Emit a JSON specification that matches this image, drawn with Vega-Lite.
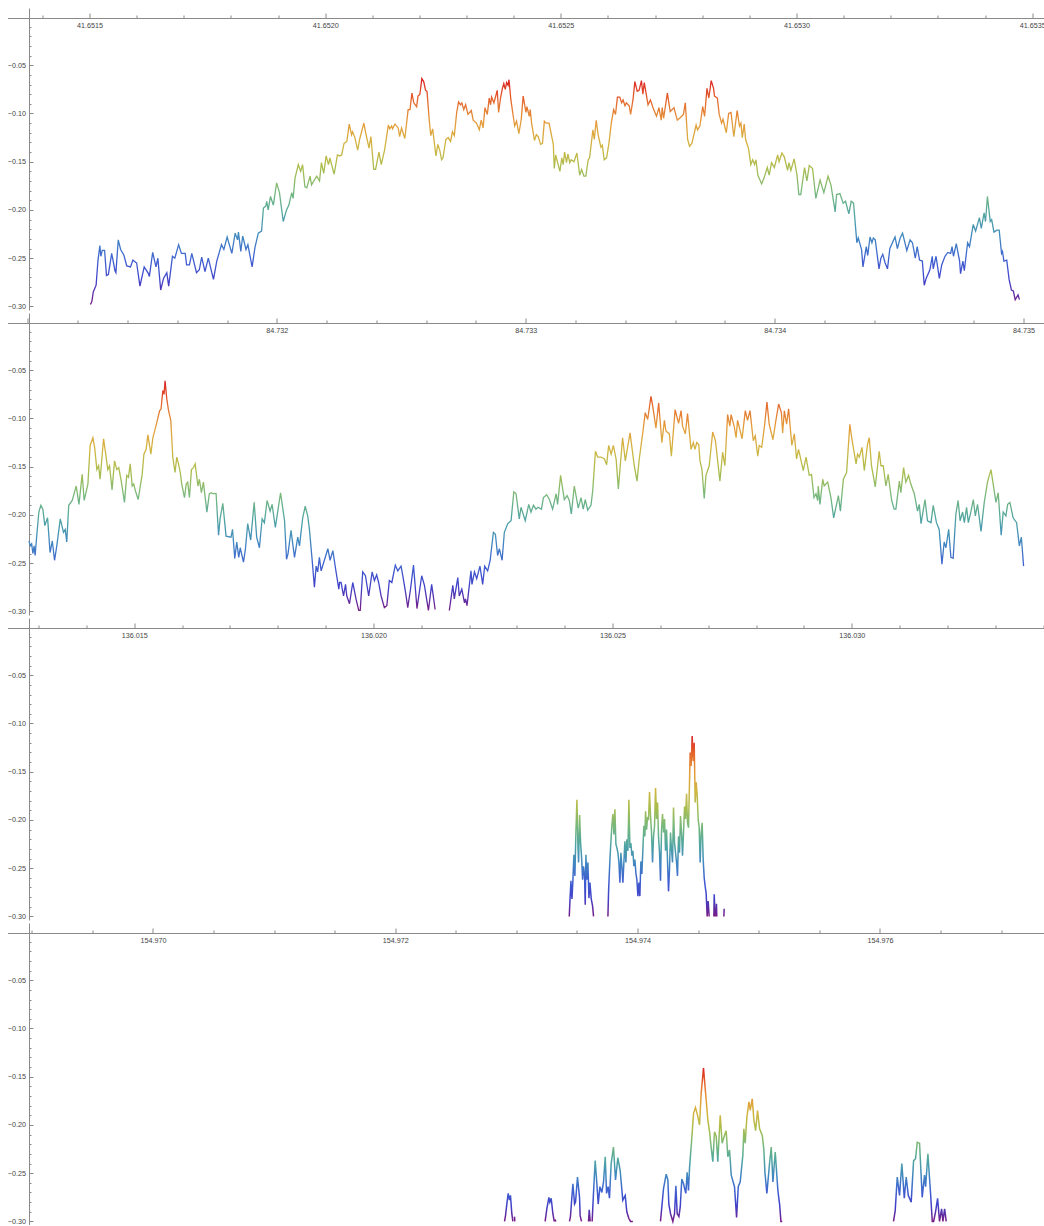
{"$schema":"https://vega.github.io/schema/vega-lite/v6.json","padding":{"left":6.5,"top":8,"right":0,"bottom":0},"spacing":3,"config":{"view":{"stroke":null},"axis":{"grid":false,"title":null,"domainColor":"#8a8a8a","tickColor":"#8a8a8a","labelColor":"#444444","labelFont":"Liberation Sans","labelFontSize":7.2,"domainWidth":1,"tickWidth":1}},
"datasets":{
"p1":[{"x":41.651502,"y":-0.298},{"x":41.651505,"y":-0.295},{"x":41.651508,"y":-0.285},{"x":41.651514,"y":-0.278},{"x":41.651518,"y":-0.252},{"x":41.651522,"y":-0.237},{"x":41.651524,"y":-0.248},{"x":41.651527,"y":-0.242},{"x":41.651532,"y":-0.242},{"x":41.651536,"y":-0.268},{"x":41.65154,"y":-0.267},{"x":41.651547,"y":-0.245},{"x":41.651549,"y":-0.25},{"x":41.651554,"y":-0.263},{"x":41.651556,"y":-0.265},{"x":41.651561,"y":-0.231},{"x":41.651566,"y":-0.241},{"x":41.651573,"y":-0.247},{"x":41.651579,"y":-0.258},{"x":41.651587,"y":-0.259},{"x":41.651592,"y":-0.252},{"x":41.6516,"y":-0.255},{"x":41.651607,"y":-0.279},{"x":41.651616,"y":-0.259},{"x":41.651625,"y":-0.266},{"x":41.651627,"y":-0.269},{"x":41.651634,"y":-0.244},{"x":41.651641,"y":-0.259},{"x":41.651645,"y":-0.25},{"x":41.651651,"y":-0.283},{"x":41.651657,"y":-0.271},{"x":41.651664,"y":-0.265},{"x":41.651668,"y":-0.279},{"x":41.651676,"y":-0.248},{"x":41.651681,"y":-0.25},{"x":41.651689,"y":-0.236},{"x":41.651695,"y":-0.245},{"x":41.651703,"y":-0.245},{"x":41.651706,"y":-0.257},{"x":41.651712,"y":-0.257},{"x":41.651717,"y":-0.245},{"x":41.651727,"y":-0.265},{"x":41.651733,"y":-0.262},{"x":41.651738,"y":-0.249},{"x":41.651745,"y":-0.264},{"x":41.651752,"y":-0.25},{"x":41.651763,"y":-0.272},{"x":41.65177,"y":-0.253},{"x":41.65178,"y":-0.236},{"x":41.651785,"y":-0.241},{"x":41.651792,"y":-0.228},{"x":41.651802,"y":-0.245},{"x":41.651809,"y":-0.224},{"x":41.651814,"y":-0.231},{"x":41.651816,"y":-0.223},{"x":41.651821,"y":-0.243},{"x":41.651825,"y":-0.227},{"x":41.651832,"y":-0.241},{"x":41.651836,"y":-0.236},{"x":41.651845,"y":-0.259},{"x":41.651851,"y":-0.239},{"x":41.651858,"y":-0.224},{"x":41.651865,"y":-0.222},{"x":41.651869,"y":-0.198},{"x":41.651874,"y":-0.196},{"x":41.651876,"y":-0.191},{"x":41.651879,"y":-0.2},{"x":41.651884,"y":-0.186},{"x":41.65189,"y":-0.195},{"x":41.651897,"y":-0.172},{"x":41.651903,"y":-0.182},{"x":41.651911,"y":-0.212},{"x":41.651918,"y":-0.2},{"x":41.651923,"y":-0.195},{"x":41.651929,"y":-0.182},{"x":41.651932,"y":-0.188},{"x":41.651936,"y":-0.167},{"x":41.651943,"y":-0.153},{"x":41.651948,"y":-0.16},{"x":41.651952,"y":-0.153},{"x":41.651957,"y":-0.176},{"x":41.651961,"y":-0.177},{"x":41.651968,"y":-0.165},{"x":41.651971,"y":-0.174},{"x":41.651982,"y":-0.165},{"x":41.651988,"y":-0.17},{"x":41.651992,"y":-0.151},{"x":41.651997,"y":-0.162},{"x":41.652002,"y":-0.144},{"x":41.652007,"y":-0.153},{"x":41.65201,"y":-0.146},{"x":41.652019,"y":-0.163},{"x":41.652026,"y":-0.143},{"x":41.652031,"y":-0.144},{"x":41.652035,"y":-0.143},{"x":41.65204,"y":-0.131},{"x":41.652046,"y":-0.129},{"x":41.652051,"y":-0.111},{"x":41.652056,"y":-0.122},{"x":41.652058,"y":-0.119},{"x":41.652063,"y":-0.125},{"x":41.652069,"y":-0.138},{"x":41.652073,"y":-0.127},{"x":41.652082,"y":-0.11},{"x":41.652086,"y":-0.12},{"x":41.652093,"y":-0.136},{"x":41.652097,"y":-0.124},{"x":41.652103,"y":-0.158},{"x":41.652107,"y":-0.158},{"x":41.652114,"y":-0.14},{"x":41.652119,"y":-0.153},{"x":41.652126,"y":-0.138},{"x":41.652134,"y":-0.112},{"x":41.652137,"y":-0.116},{"x":41.652141,"y":-0.113},{"x":41.652143,"y":-0.116},{"x":41.652148,"y":-0.111},{"x":41.652155,"y":-0.115},{"x":41.652158,"y":-0.124},{"x":41.652162,"y":-0.115},{"x":41.652169,"y":-0.126},{"x":41.652176,"y":-0.096},{"x":41.65218,"y":-0.096},{"x":41.652184,"y":-0.079},{"x":41.652188,"y":-0.089},{"x":41.652194,"y":-0.093},{"x":41.652197,"y":-0.082},{"x":41.652201,"y":-0.08},{"x":41.652205,"y":-0.064},{"x":41.652209,"y":-0.067},{"x":41.652213,"y":-0.076},{"x":41.652216,"y":-0.077},{"x":41.652221,"y":-0.108},{"x":41.652224,"y":-0.123},{"x":41.652228,"y":-0.116},{"x":41.652235,"y":-0.144},{"x":41.652239,"y":-0.132},{"x":41.652243,"y":-0.138},{"x":41.652247,"y":-0.148},{"x":41.65225,"y":-0.146},{"x":41.652256,"y":-0.127},{"x":41.652261,"y":-0.125},{"x":41.652266,"y":-0.129},{"x":41.65227,"y":-0.119},{"x":41.652274,"y":-0.123},{"x":41.652279,"y":-0.099},{"x":41.652283,"y":-0.088},{"x":41.652287,"y":-0.091},{"x":41.65229,"y":-0.089},{"x":41.652294,"y":-0.096},{"x":41.652298,"y":-0.091},{"x":41.652303,"y":-0.101},{"x":41.65231,"y":-0.097},{"x":41.652314,"y":-0.107},{"x":41.652321,"y":-0.11},{"x":41.652327,"y":-0.117},{"x":41.652331,"y":-0.107},{"x":41.652335,"y":-0.115},{"x":41.652339,"y":-0.094},{"x":41.652344,"y":-0.101},{"x":41.652348,"y":-0.084},{"x":41.652351,"y":-0.091},{"x":41.652353,"y":-0.083},{"x":41.652358,"y":-0.089},{"x":41.652365,"y":-0.076},{"x":41.652368,"y":-0.099},{"x":41.652372,"y":-0.084},{"x":41.652376,"y":-0.074},{"x":41.652379,"y":-0.069},{"x":41.652382,"y":-0.075},{"x":41.652385,"y":-0.068},{"x":41.652388,"y":-0.071},{"x":41.65239,"y":-0.065},{"x":41.652394,"y":-0.086},{"x":41.652402,"y":-0.113},{"x":41.652406,"y":-0.108},{"x":41.652411,"y":-0.121},{"x":41.652416,"y":-0.106},{"x":41.65242,"y":-0.082},{"x":41.652426,"y":-0.099},{"x":41.652428,"y":-0.093},{"x":41.652433,"y":-0.103},{"x":41.652435,"y":-0.096},{"x":41.652438,"y":-0.11},{"x":41.652444,"y":-0.128},{"x":41.652448,"y":-0.122},{"x":41.652452,"y":-0.124},{"x":41.652457,"y":-0.132},{"x":41.652461,"y":-0.131},{"x":41.652465,"y":-0.108},{"x":41.652469,"y":-0.11},{"x":41.652475,"y":-0.11},{"x":41.652484,"y":-0.132},{"x":41.652486,"y":-0.157},{"x":41.652489,"y":-0.143},{"x":41.652498,"y":-0.16},{"x":41.652502,"y":-0.146},{"x":41.652505,"y":-0.153},{"x":41.652508,"y":-0.14},{"x":41.652512,"y":-0.151},{"x":41.652515,"y":-0.142},{"x":41.652519,"y":-0.151},{"x":41.652522,"y":-0.148},{"x":41.652528,"y":-0.15},{"x":41.652534,"y":-0.141},{"x":41.65254,"y":-0.164},{"x":41.652544,"y":-0.158},{"x":41.652549,"y":-0.165},{"x":41.652553,"y":-0.165},{"x":41.652558,"y":-0.148},{"x":41.652561,"y":-0.146},{"x":41.652568,"y":-0.117},{"x":41.652571,"y":-0.127},{"x":41.652575,"y":-0.107},{"x":41.652579,"y":-0.122},{"x":41.652585,"y":-0.135},{"x":41.652588,"y":-0.133},{"x":41.652592,"y":-0.148},{"x":41.652597,"y":-0.146},{"x":41.652602,"y":-0.131},{"x":41.652607,"y":-0.11},{"x":41.652612,"y":-0.096},{"x":41.652616,"y":-0.101},{"x":41.65262,"y":-0.083},{"x":41.652625,"y":-0.083},{"x":41.652629,"y":-0.089},{"x":41.652632,"y":-0.086},{"x":41.652636,"y":-0.092},{"x":41.652639,"y":-0.089},{"x":41.652645,"y":-0.092},{"x":41.652648,"y":-0.101},{"x":41.652653,"y":-0.086},{"x":41.652657,"y":-0.067},{"x":41.652662,"y":-0.077},{"x":41.652666,"y":-0.076},{"x":41.652671,"y":-0.066},{"x":41.652674,"y":-0.08},{"x":41.652677,"y":-0.068},{"x":41.652685,"y":-0.091},{"x":41.65269,"y":-0.086},{"x":41.652697,"y":-0.096},{"x":41.652703,"y":-0.103},{"x":41.652708,"y":-0.094},{"x":41.652713,"y":-0.107},{"x":41.652715,"y":-0.094},{"x":41.652718,"y":-0.105},{"x":41.652726,"y":-0.079},{"x":41.652732,"y":-0.098},{"x":41.65274,"y":-0.094},{"x":41.652747,"y":-0.107},{"x":41.652752,"y":-0.105},{"x":41.65276,"y":-0.101},{"x":41.652764,"y":-0.089},{"x":41.652769,"y":-0.127},{"x":41.652773,"y":-0.134},{"x":41.652778,"y":-0.131},{"x":41.652787,"y":-0.112},{"x":41.65279,"y":-0.117},{"x":41.652795,"y":-0.113},{"x":41.652801,"y":-0.093},{"x":41.652805,"y":-0.103},{"x":41.65281,"y":-0.074},{"x":41.652814,"y":-0.084},{"x":41.652819,"y":-0.066},{"x":41.652824,"y":-0.074},{"x":41.652826,"y":-0.082},{"x":41.652832,"y":-0.084},{"x":41.652836,"y":-0.101},{"x":41.652841,"y":-0.11},{"x":41.652844,"y":-0.106},{"x":41.652851,"y":-0.12},{"x":41.652856,"y":-0.1},{"x":41.652861,"y":-0.099},{"x":41.652867,"y":-0.124},{"x":41.652874,"y":-0.097},{"x":41.652879,"y":-0.113},{"x":41.652882,"y":-0.11},{"x":41.652885,"y":-0.125},{"x":41.652889,"y":-0.111},{"x":41.652892,"y":-0.127},{"x":41.652898,"y":-0.136},{"x":41.652903,"y":-0.153},{"x":41.652907,"y":-0.148},{"x":41.652911,"y":-0.153},{"x":41.652914,"y":-0.148},{"x":41.652918,"y":-0.164},{"x":41.652926,"y":-0.173},{"x":41.652931,"y":-0.167},{"x":41.652938,"y":-0.156},{"x":41.652942,"y":-0.164},{"x":41.652947,"y":-0.151},{"x":41.652953,"y":-0.156},{"x":41.65296,"y":-0.143},{"x":41.652963,"y":-0.15},{"x":41.652969,"y":-0.141},{"x":41.652974,"y":-0.145},{"x":41.652981,"y":-0.159},{"x":41.652984,"y":-0.151},{"x":41.652988,"y":-0.159},{"x":41.652995,"y":-0.147},{"x":41.653001,"y":-0.164},{"x":41.653005,"y":-0.184},{"x":41.653009,"y":-0.184},{"x":41.653013,"y":-0.17},{"x":41.653017,"y":-0.156},{"x":41.653022,"y":-0.17},{"x":41.653027,"y":-0.154},{"x":41.653034,"y":-0.157},{"x":41.653041,"y":-0.188},{"x":41.65305,"y":-0.169},{"x":41.653058,"y":-0.182},{"x":41.653067,"y":-0.165},{"x":41.653073,"y":-0.174},{"x":41.653082,"y":-0.202},{"x":41.653085,"y":-0.184},{"x":41.653092,"y":-0.183},{"x":41.653099,"y":-0.193},{"x":41.653104,"y":-0.191},{"x":41.653111,"y":-0.204},{"x":41.653116,"y":-0.191},{"x":41.653121,"y":-0.193},{"x":41.653128,"y":-0.234},{"x":41.653131,"y":-0.229},{"x":41.653138,"y":-0.241},{"x":41.653141,"y":-0.259},{"x":41.653148,"y":-0.238},{"x":41.653151,"y":-0.247},{"x":41.653156,"y":-0.228},{"x":41.65316,"y":-0.234},{"x":41.653163,"y":-0.229},{"x":41.653167,"y":-0.231},{"x":41.653175,"y":-0.261},{"x":41.653179,"y":-0.25},{"x":41.653183,"y":-0.246},{"x":41.653188,"y":-0.255},{"x":41.653193,"y":-0.261},{"x":41.653198,"y":-0.24},{"x":41.653209,"y":-0.228},{"x":41.653214,"y":-0.24},{"x":41.65322,"y":-0.229},{"x":41.653225,"y":-0.224},{"x":41.653234,"y":-0.242},{"x":41.653241,"y":-0.231},{"x":41.653246,"y":-0.234},{"x":41.653252,"y":-0.25},{"x":41.653256,"y":-0.238},{"x":41.653261,"y":-0.252},{"x":41.653267,"y":-0.253},{"x":41.653271,"y":-0.278},{"x":41.653275,"y":-0.271},{"x":41.653283,"y":-0.262},{"x":41.653288,"y":-0.248},{"x":41.65329,"y":-0.261},{"x":41.653296,"y":-0.248},{"x":41.653303,"y":-0.271},{"x":41.653308,"y":-0.257},{"x":41.653315,"y":-0.248},{"x":41.653321,"y":-0.244},{"x":41.653327,"y":-0.245},{"x":41.65333,"y":-0.238},{"x":41.653333,"y":-0.248},{"x":41.653339,"y":-0.235},{"x":41.653346,"y":-0.253},{"x":41.653348,"y":-0.266},{"x":41.653353,"y":-0.253},{"x":41.653356,"y":-0.263},{"x":41.653363,"y":-0.234},{"x":41.653367,"y":-0.238},{"x":41.653375,"y":-0.215},{"x":41.65338,"y":-0.222},{"x":41.653388,"y":-0.208},{"x":41.653392,"y":-0.219},{"x":41.653398,"y":-0.203},{"x":41.653401,"y":-0.212},{"x":41.653405,"y":-0.186},{"x":41.653411,"y":-0.212},{"x":41.653414,"y":-0.21},{"x":41.653419,"y":-0.223},{"x":41.653425,"y":-0.221},{"x":41.65343,"y":-0.221},{"x":41.653435,"y":-0.245},{"x":41.653437,"y":-0.243},{"x":41.65344,"y":-0.253},{"x":41.653446,"y":-0.252},{"x":41.653451,"y":-0.272},{"x":41.653456,"y":-0.283},{"x":41.65346,"y":-0.284},{"x":41.653464,"y":-0.293},{"x":41.65347,"y":-0.288},{"x":41.653473,"y":-0.293}],
"p2":[{"x":84.731004,"y":-0.227},{"x":84.73101,"y":-0.232},{"x":84.731015,"y":-0.23},{"x":84.73102,"y":-0.24},{"x":84.731025,"y":-0.232},{"x":84.731029,"y":-0.242},{"x":84.731036,"y":-0.22},{"x":84.731044,"y":-0.197},{"x":84.731052,"y":-0.19},{"x":84.73106,"y":-0.194},{"x":84.731068,"y":-0.211},{"x":84.731079,"y":-0.203},{"x":84.731089,"y":-0.239},{"x":84.731098,"y":-0.227},{"x":84.731107,"y":-0.247},{"x":84.731116,"y":-0.232},{"x":84.73113,"y":-0.204},{"x":84.731143,"y":-0.218},{"x":84.73115,"y":-0.215},{"x":84.731156,"y":-0.228},{"x":84.731164,"y":-0.19},{"x":84.731178,"y":-0.185},{"x":84.731194,"y":-0.17},{"x":84.731205,"y":-0.189},{"x":84.731218,"y":-0.158},{"x":84.731226,"y":-0.185},{"x":84.731241,"y":-0.168},{"x":84.73125,"y":-0.128},{"x":84.731261,"y":-0.12},{"x":84.731268,"y":-0.13},{"x":84.731277,"y":-0.153},{"x":84.731284,"y":-0.149},{"x":84.73129,"y":-0.163},{"x":84.731304,"y":-0.121},{"x":84.73131,"y":-0.132},{"x":84.731321,"y":-0.153},{"x":84.731328,"y":-0.149},{"x":84.731338,"y":-0.174},{"x":84.731348,"y":-0.144},{"x":84.731357,"y":-0.153},{"x":84.731365,"y":-0.151},{"x":84.731375,"y":-0.165},{"x":84.731388,"y":-0.187},{"x":84.731397,"y":-0.159},{"x":84.731404,"y":-0.161},{"x":84.731411,"y":-0.147},{"x":84.731419,"y":-0.17},{"x":84.731425,"y":-0.168},{"x":84.731432,"y":-0.175},{"x":84.731443,"y":-0.184},{"x":84.731459,"y":-0.158},{"x":84.731466,"y":-0.137},{"x":84.731475,"y":-0.132},{"x":84.731482,"y":-0.117},{"x":84.731494,"y":-0.137},{"x":84.731502,"y":-0.12},{"x":84.731511,"y":-0.111},{"x":84.731518,"y":-0.104},{"x":84.731529,"y":-0.092},{"x":84.731535,"y":-0.09},{"x":84.731542,"y":-0.071},{"x":84.731547,"y":-0.075},{"x":84.731551,"y":-0.061},{"x":84.731558,"y":-0.08},{"x":84.731565,"y":-0.092},{"x":84.731574,"y":-0.102},{"x":84.731582,"y":-0.14},{"x":84.731591,"y":-0.156},{"x":84.731598,"y":-0.14},{"x":84.731605,"y":-0.147},{"x":84.731612,"y":-0.156},{"x":84.731618,"y":-0.168},{"x":84.731629,"y":-0.182},{"x":84.731636,"y":-0.168},{"x":84.731642,"y":-0.166},{"x":84.731649,"y":-0.182},{"x":84.731657,"y":-0.153},{"x":84.731665,"y":-0.151},{"x":84.731672,"y":-0.147},{"x":84.731683,"y":-0.17},{"x":84.731689,"y":-0.163},{"x":84.731697,"y":-0.177},{"x":84.731705,"y":-0.166},{"x":84.731719,"y":-0.197},{"x":84.731729,"y":-0.178},{"x":84.731737,"y":-0.177},{"x":84.731743,"y":-0.178},{"x":84.731756,"y":-0.178},{"x":84.731766,"y":-0.221},{"x":84.731772,"y":-0.204},{"x":84.731783,"y":-0.188},{"x":84.731796,"y":-0.222},{"x":84.731816,"y":-0.223},{"x":84.731822,"y":-0.215},{"x":84.731831,"y":-0.245},{"x":84.731839,"y":-0.228},{"x":84.731847,"y":-0.244},{"x":84.731853,"y":-0.234},{"x":84.731866,"y":-0.249},{"x":84.731874,"y":-0.235},{"x":84.731883,"y":-0.209},{"x":84.731895,"y":-0.226},{"x":84.731909,"y":-0.187},{"x":84.731919,"y":-0.223},{"x":84.73193,"y":-0.234},{"x":84.731941,"y":-0.204},{"x":84.73195,"y":-0.208},{"x":84.731961,"y":-0.185},{"x":84.731973,"y":-0.196},{"x":84.731981,"y":-0.189},{"x":84.731994,"y":-0.213},{"x":84.732015,"y":-0.177},{"x":84.732031,"y":-0.206},{"x":84.732039,"y":-0.246},{"x":84.732045,"y":-0.24},{"x":84.732057,"y":-0.216},{"x":84.732071,"y":-0.244},{"x":84.732084,"y":-0.223},{"x":84.732091,"y":-0.232},{"x":84.732104,"y":-0.203},{"x":84.732114,"y":-0.191},{"x":84.732124,"y":-0.201},{"x":84.732131,"y":-0.215},{"x":84.732142,"y":-0.247},{"x":84.732151,"y":-0.275},{"x":84.732158,"y":-0.253},{"x":84.732164,"y":-0.259},{"x":84.732171,"y":-0.244},{"x":84.732178,"y":-0.258},{"x":84.732191,"y":-0.247},{"x":84.732205,"y":-0.235},{"x":84.732214,"y":-0.247},{"x":84.732225,"y":-0.237},{"x":84.732235,"y":-0.254},{"x":84.732249,"y":-0.277},{"x":84.732252,"y":-0.27},{"x":84.732258,"y":-0.27},{"x":84.732268,"y":-0.284},{"x":84.732276,"y":-0.272},{"x":84.732281,"y":-0.284},{"x":84.732292,"y":-0.292},{"x":84.732305,"y":-0.27},{"x":84.732318,"y":-0.287},{"x":84.732329,"y":-0.299},{"x":84.732335,"y":-0.299},{"x":84.732345,"y":-0.259},{"x":84.732356,"y":-0.263},{"x":84.732369,"y":-0.284},{"x":84.732383,"y":-0.259},{"x":84.732392,"y":-0.268},{"x":84.732401,"y":-0.262},{"x":84.732409,"y":-0.27},{"x":84.732419,"y":-0.284},{"x":84.732432,"y":-0.296},{"x":84.732442,"y":-0.294},{"x":84.732452,"y":-0.268},{"x":84.732462,"y":-0.27},{"x":84.732476,"y":-0.252},{"x":84.732486,"y":-0.258},{"x":84.732499,"y":-0.253},{"x":84.732506,"y":-0.263},{"x":84.732517,"y":-0.28},{"x":84.732526,"y":-0.296},{"x":84.732537,"y":-0.277},{"x":84.732549,"y":-0.252},{"x":84.732563,"y":-0.297},{"x":84.732582,"y":-0.263},{"x":84.732593,"y":-0.273},{"x":84.732609,"y":-0.299},{"x":84.732622,"y":-0.272},{"x":84.732636,"y":-0.298},{"x":84.73265,"y":null},{"x":84.732693,"y":-0.299},{"x":84.732707,"y":-0.273},{"x":84.732713,"y":-0.287},{"x":84.732727,"y":-0.265},{"x":84.732733,"y":-0.284},{"x":84.732743,"y":-0.277},{"x":84.732754,"y":-0.291},{"x":84.732758,"y":-0.287},{"x":84.732764,"y":-0.294},{"x":84.73278,"y":-0.258},{"x":84.732784,"y":-0.272},{"x":84.732794,"y":-0.259},{"x":84.732803,"y":-0.266},{"x":84.732816,"y":-0.253},{"x":84.732827,"y":-0.272},{"x":84.732835,"y":-0.253},{"x":84.732847,"y":-0.258},{"x":84.732857,"y":-0.247},{"x":84.73287,"y":-0.218},{"x":84.732878,"y":-0.22},{"x":84.732887,"y":-0.242},{"x":84.732894,"y":-0.235},{"x":84.732905,"y":-0.247},{"x":84.732914,"y":-0.218},{"x":84.732928,"y":-0.209},{"x":84.732941,"y":-0.206},{"x":84.732952,"y":-0.176},{"x":84.732961,"y":-0.178},{"x":84.732974,"y":-0.204},{"x":84.732981,"y":-0.192},{"x":84.732998,"y":-0.206},{"x":84.733012,"y":-0.189},{"x":84.733021,"y":-0.197},{"x":84.733031,"y":-0.19},{"x":84.733041,"y":-0.194},{"x":84.733049,"y":-0.192},{"x":84.733063,"y":-0.194},{"x":84.733071,"y":-0.182},{"x":84.733084,"y":-0.179},{"x":84.733095,"y":-0.184},{"x":84.733108,"y":-0.194},{"x":84.733122,"y":-0.178},{"x":84.733128,"y":-0.189},{"x":84.73314,"y":-0.159},{"x":84.733155,"y":-0.184},{"x":84.733166,"y":-0.18},{"x":84.733175,"y":-0.185},{"x":84.733183,"y":-0.199},{"x":84.733195,"y":-0.17},{"x":84.733211,"y":-0.193},{"x":84.733222,"y":-0.182},{"x":84.733231,"y":-0.194},{"x":84.733239,"y":-0.184},{"x":84.733249,"y":-0.195},{"x":84.733262,"y":-0.19},{"x":84.733269,"y":-0.175},{"x":84.73328,"y":-0.134},{"x":84.733289,"y":-0.14},{"x":84.733302,"y":-0.14},{"x":84.733316,"y":-0.142},{"x":84.733325,"y":-0.148},{"x":84.733333,"y":-0.128},{"x":84.733343,"y":-0.137},{"x":84.733352,"y":-0.128},{"x":84.733363,"y":-0.142},{"x":84.733372,"y":-0.173},{"x":84.733389,"y":-0.12},{"x":84.7334,"y":-0.144},{"x":84.733419,"y":-0.115},{"x":84.733436,"y":-0.149},{"x":84.733447,"y":-0.165},{"x":84.733456,"y":-0.142},{"x":84.733472,"y":-0.111},{"x":84.73348,"y":-0.094},{"x":84.73349,"y":-0.101},{"x":84.733503,"y":-0.077},{"x":84.73351,"y":-0.087},{"x":84.733523,"y":-0.11},{"x":84.733534,"y":-0.084},{"x":84.733547,"y":-0.125},{"x":84.733557,"y":-0.102},{"x":84.733563,"y":-0.113},{"x":84.733577,"y":-0.116},{"x":84.733585,"y":-0.139},{"x":84.7336,"y":-0.091},{"x":84.733614,"y":-0.105},{"x":84.733624,"y":-0.092},{"x":84.73363,"y":-0.108},{"x":84.733641,"y":-0.116},{"x":84.73365,"y":-0.095},{"x":84.733664,"y":-0.132},{"x":84.733673,"y":-0.125},{"x":84.73368,"y":-0.132},{"x":84.733687,"y":-0.125},{"x":84.733695,"y":-0.127},{"x":84.7337,"y":-0.144},{"x":84.733708,"y":-0.153},{"x":84.733717,"y":-0.183},{"x":84.733724,"y":-0.159},{"x":84.733737,"y":-0.149},{"x":84.733751,"y":-0.114},{"x":84.733762,"y":-0.123},{"x":84.73378,"y":-0.165},{"x":84.733791,"y":-0.135},{"x":84.7338,"y":-0.149},{"x":84.733811,"y":-0.096},{"x":84.73382,"y":-0.108},{"x":84.733825,"y":-0.096},{"x":84.733838,"y":-0.109},{"x":84.733845,"y":-0.12},{"x":84.733851,"y":-0.102},{"x":84.733869,"y":-0.121},{"x":84.733882,"y":-0.092},{"x":84.733891,"y":-0.102},{"x":84.733901,"y":-0.092},{"x":84.733914,"y":-0.123},{"x":84.733922,"y":-0.118},{"x":84.733932,"y":-0.139},{"x":84.733938,"y":-0.128},{"x":84.733948,"y":-0.13},{"x":84.73396,"y":-0.106},{"x":84.733969,"y":-0.083},{"x":84.733978,"y":-0.106},{"x":84.733993,"y":-0.122},{"x":84.734005,"y":-0.102},{"x":84.734016,"y":-0.085},{"x":84.734027,"y":-0.094},{"x":84.734032,"y":-0.115},{"x":84.734039,"y":-0.092},{"x":84.734048,"y":-0.106},{"x":84.734056,"y":-0.09},{"x":84.734069,"y":-0.128},{"x":84.734079,"y":-0.116},{"x":84.734088,"y":-0.142},{"x":84.734096,"y":-0.132},{"x":84.734115,"y":-0.154},{"x":84.734126,"y":-0.14},{"x":84.734139,"y":-0.159},{"x":84.734148,"y":-0.158},{"x":84.734158,"y":-0.182},{"x":84.734166,"y":-0.178},{"x":84.734173,"y":-0.185},{"x":84.734175,"y":-0.17},{"x":84.734182,"y":-0.189},{"x":84.734193,"y":-0.163},{"x":84.734199,"y":-0.17},{"x":84.734213,"y":-0.166},{"x":84.734226,"y":-0.182},{"x":84.734237,"y":-0.203},{"x":84.734256,"y":-0.18},{"x":84.734264,"y":-0.196},{"x":84.734276,"y":-0.163},{"x":84.734289,"y":-0.156},{"x":84.734302,"y":-0.106},{"x":84.73431,"y":-0.121},{"x":84.734327,"y":-0.147},{"x":84.734333,"y":-0.137},{"x":84.73434,"y":-0.14},{"x":84.734351,"y":-0.13},{"x":84.73436,"y":-0.154},{"x":84.734373,"y":-0.127},{"x":84.73438,"y":-0.12},{"x":84.734389,"y":-0.149},{"x":84.734404,"y":-0.171},{"x":84.73442,"y":-0.134},{"x":84.734427,"y":-0.149},{"x":84.734436,"y":-0.149},{"x":84.734447,"y":-0.17},{"x":84.734456,"y":-0.158},{"x":84.73447,"y":-0.185},{"x":84.73448,"y":-0.194},{"x":84.734487,"y":-0.194},{"x":84.734501,"y":-0.165},{"x":84.734507,"y":-0.177},{"x":84.734518,"y":-0.151},{"x":84.734527,"y":-0.166},{"x":84.734538,"y":-0.159},{"x":84.734547,"y":-0.168},{"x":84.734561,"y":-0.178},{"x":84.734574,"y":-0.196},{"x":84.734581,"y":-0.189},{"x":84.734588,"y":-0.209},{"x":84.734604,"y":-0.184},{"x":84.734614,"y":-0.206},{"x":84.734628,"y":-0.208},{"x":84.734637,"y":-0.19},{"x":84.73465,"y":-0.208},{"x":84.734661,"y":-0.215},{"x":84.734672,"y":-0.251},{"x":84.734681,"y":-0.228},{"x":84.734688,"y":-0.234},{"x":84.734699,"y":-0.215},{"x":84.734708,"y":-0.244},{"x":84.734717,"y":-0.245},{"x":84.734728,"y":-0.199},{"x":84.734737,"y":-0.185},{"x":84.734745,"y":-0.206},{"x":84.734755,"y":-0.197},{"x":84.734762,"y":-0.208},{"x":84.734771,"y":-0.192},{"x":84.734778,"y":-0.208},{"x":84.734788,"y":-0.197},{"x":84.734798,"y":-0.184},{"x":84.734806,"y":-0.201},{"x":84.734815,"y":-0.189},{"x":84.734829,"y":-0.217},{"x":84.734842,"y":-0.187},{"x":84.734855,"y":-0.166},{"x":84.734869,"y":-0.153},{"x":84.734882,"y":-0.175},{"x":84.734889,"y":-0.187},{"x":84.734898,"y":-0.177},{"x":84.73491,"y":-0.221},{"x":84.734918,"y":-0.197},{"x":84.734929,"y":-0.201},{"x":84.734936,"y":-0.189},{"x":84.734945,"y":-0.187},{"x":84.734958,"y":-0.203},{"x":84.734972,"y":-0.208},{"x":84.734983,"y":-0.232},{"x":84.734991,"y":-0.223},{"x":84.735,"y":-0.253}],
"p3":[{"x":136.024095,"y":-0.3},{"x":136.024109,"y":-0.284},{"x":136.02413,"y":-0.263},{"x":136.024151,"y":-0.282},{"x":136.024171,"y":-0.263},{"x":136.024192,"y":-0.236},{"x":136.024213,"y":-0.258},{"x":136.024234,"y":-0.213},{"x":136.024255,"y":-0.179},{"x":136.024276,"y":-0.227},{"x":136.02429,"y":-0.244},{"x":136.024311,"y":-0.195},{"x":136.024332,"y":-0.224},{"x":136.024353,"y":-0.239},{"x":136.024374,"y":-0.262},{"x":136.024394,"y":-0.248},{"x":136.024415,"y":-0.258},{"x":136.024429,"y":-0.288},{"x":136.024443,"y":-0.236},{"x":136.024464,"y":-0.262},{"x":136.024485,"y":-0.244},{"x":136.024506,"y":-0.281},{"x":136.024527,"y":-0.265},{"x":136.024555,"y":-0.282},{"x":136.024582,"y":-0.289},{"x":136.024603,"y":-0.3},{"x":136.02475,"y":null},{"x":136.024903,"y":-0.3},{"x":136.024917,"y":-0.274},{"x":136.024945,"y":-0.241},{"x":136.024966,"y":-0.222},{"x":136.024986,"y":-0.206},{"x":136.025007,"y":-0.194},{"x":136.025028,"y":-0.215},{"x":136.025049,"y":-0.189},{"x":136.02507,"y":-0.225},{"x":136.025091,"y":-0.229},{"x":136.025112,"y":-0.234},{"x":136.025133,"y":-0.244},{"x":136.025154,"y":-0.265},{"x":136.025174,"y":-0.234},{"x":136.025195,"y":-0.248},{"x":136.025216,"y":-0.265},{"x":136.025237,"y":-0.244},{"x":136.025258,"y":-0.222},{"x":136.025279,"y":-0.244},{"x":136.0253,"y":-0.22},{"x":136.025321,"y":-0.232},{"x":136.025342,"y":-0.179},{"x":136.025363,"y":-0.229},{"x":136.025383,"y":-0.224},{"x":136.025404,"y":-0.237},{"x":136.025425,"y":-0.232},{"x":136.025446,"y":-0.248},{"x":136.025467,"y":-0.241},{"x":136.025488,"y":-0.255},{"x":136.025509,"y":-0.262},{"x":136.02553,"y":-0.279},{"x":136.025551,"y":-0.265},{"x":136.025571,"y":-0.279},{"x":136.025592,"y":-0.243},{"x":136.025613,"y":-0.256},{"x":136.025634,"y":-0.231},{"x":136.025655,"y":-0.206},{"x":136.025676,"y":-0.217},{"x":136.02569,"y":-0.191},{"x":136.025711,"y":-0.21},{"x":136.025732,"y":-0.198},{"x":136.025753,"y":-0.199},{"x":136.025773,"y":-0.171},{"x":136.025794,"y":-0.196},{"x":136.025815,"y":-0.213},{"x":136.025836,"y":-0.244},{"x":136.025857,"y":-0.217},{"x":136.025878,"y":-0.206},{"x":136.025899,"y":-0.167},{"x":136.02592,"y":-0.199},{"x":136.025941,"y":-0.182},{"x":136.025961,"y":-0.217},{"x":136.025982,"y":-0.234},{"x":136.026003,"y":-0.263},{"x":136.026024,"y":-0.21},{"x":136.026045,"y":-0.194},{"x":136.026066,"y":-0.213},{"x":136.026087,"y":-0.199},{"x":136.026108,"y":-0.232},{"x":136.026129,"y":-0.21},{"x":136.02615,"y":-0.244},{"x":136.02617,"y":-0.274},{"x":136.026191,"y":-0.251},{"x":136.026212,"y":-0.213},{"x":136.026233,"y":-0.231},{"x":136.026254,"y":-0.244},{"x":136.026275,"y":-0.187},{"x":136.026296,"y":-0.224},{"x":136.026317,"y":-0.234},{"x":136.026338,"y":-0.244},{"x":136.026358,"y":-0.258},{"x":136.026379,"y":-0.217},{"x":136.0264,"y":-0.234},{"x":136.026421,"y":-0.196},{"x":136.026442,"y":-0.213},{"x":136.026463,"y":-0.237},{"x":136.026484,"y":-0.213},{"x":136.026505,"y":-0.186},{"x":136.026526,"y":-0.199},{"x":136.026547,"y":-0.173},{"x":136.026567,"y":-0.203},{"x":136.026588,"y":-0.208},{"x":136.026609,"y":-0.161},{"x":136.026623,"y":-0.13},{"x":136.026644,"y":-0.144},{"x":136.026665,"y":-0.113},{"x":136.026686,"y":-0.139},{"x":136.026707,"y":-0.12},{"x":136.026728,"y":-0.182},{"x":136.026749,"y":-0.161},{"x":136.02677,"y":-0.175},{"x":136.02679,"y":-0.199},{"x":136.026811,"y":-0.208},{"x":136.026832,"y":-0.244},{"x":136.026853,"y":-0.213},{"x":136.026874,"y":-0.203},{"x":136.026895,"y":-0.241},{"x":136.026916,"y":-0.26},{"x":136.026937,"y":-0.269},{"x":136.026957,"y":-0.276},{"x":136.026978,"y":-0.3},{"x":136.026999,"y":-0.284},{"x":136.02702,"y":-0.3},{"x":136.02707,"y":null},{"x":136.027118,"y":-0.3},{"x":136.027125,"y":-0.277},{"x":136.027146,"y":-0.3},{"x":136.027156,"y":null},{"x":136.027166,"y":-0.3},{"x":136.027173,"y":-0.287},{"x":136.02718,"y":-0.3},{"x":136.02725,"y":null},{"x":136.027327,"y":-0.3},{"x":136.027334,"y":-0.292}],
"p4":[{"x":154.972902,"y":-0.3},{"x":154.97291,"y":-0.294},{"x":154.972921,"y":-0.282},{"x":154.972932,"y":-0.271},{"x":154.972943,"y":-0.278},{"x":154.972951,"y":-0.273},{"x":154.972962,"y":-0.292},{"x":154.972971,"y":-0.3},{"x":154.972977,"y":null},{"x":154.972984,"y":-0.295},{"x":154.972987,"y":-0.3},{"x":154.9731,"y":null},{"x":154.973237,"y":-0.3},{"x":154.973251,"y":-0.287},{"x":154.973268,"y":-0.275},{"x":154.973276,"y":-0.28},{"x":154.973287,"y":-0.276},{"x":154.973301,"y":-0.292},{"x":154.973312,"y":-0.3},{"x":154.973316,"y":null},{"x":154.97332,"y":-0.298},{"x":154.973325,"y":-0.3},{"x":154.97338,"y":null},{"x":154.973438,"y":-0.3},{"x":154.973446,"y":-0.295},{"x":154.973466,"y":-0.261},{"x":154.97348,"y":-0.282},{"x":154.973488,"y":-0.28},{"x":154.973504,"y":-0.254},{"x":154.973521,"y":-0.275},{"x":154.973526,"y":-0.294},{"x":154.973537,"y":-0.3},{"x":154.97356,"y":null},{"x":154.973595,"y":-0.3},{"x":154.973601,"y":-0.288},{"x":154.973609,"y":-0.3},{"x":154.973617,"y":null},{"x":154.973625,"y":-0.3},{"x":154.973636,"y":-0.271},{"x":154.97365,"y":-0.237},{"x":154.973664,"y":-0.261},{"x":154.973675,"y":-0.282},{"x":154.973689,"y":-0.264},{"x":154.973705,"y":-0.27},{"x":154.973719,"y":-0.259},{"x":154.973733,"y":-0.233},{"x":154.973744,"y":-0.271},{"x":154.973757,"y":-0.264},{"x":154.973768,"y":-0.276},{"x":154.973782,"y":-0.24},{"x":154.973801,"y":-0.223},{"x":154.973818,"y":-0.257},{"x":154.973837,"y":-0.234},{"x":154.973856,"y":-0.247},{"x":154.973878,"y":-0.278},{"x":154.973898,"y":-0.273},{"x":154.973911,"y":-0.29},{"x":154.973928,"y":-0.297},{"x":154.973942,"y":-0.3},{"x":154.973961,"y":-0.3},{"x":154.97408,"y":null},{"x":154.974189,"y":-0.3},{"x":154.9742,"y":-0.285},{"x":154.974214,"y":-0.266},{"x":154.974236,"y":-0.251},{"x":154.97425,"y":-0.257},{"x":154.974258,"y":-0.282},{"x":154.974272,"y":-0.292},{"x":154.974291,"y":-0.3},{"x":154.974305,"y":-0.292},{"x":154.974316,"y":-0.263},{"x":154.974327,"y":-0.292},{"x":154.974341,"y":-0.295},{"x":154.974352,"y":-0.285},{"x":154.974365,"y":-0.256},{"x":154.974379,"y":-0.261},{"x":154.974398,"y":-0.271},{"x":154.974409,"y":-0.249},{"x":154.97442,"y":-0.268},{"x":154.974429,"y":-0.244},{"x":154.974445,"y":-0.218},{"x":154.974462,"y":-0.188},{"x":154.974478,"y":-0.182},{"x":154.974495,"y":-0.19},{"x":154.974511,"y":-0.2},{"x":154.974525,"y":-0.167},{"x":154.974544,"y":-0.141},{"x":154.974566,"y":-0.174},{"x":154.97458,"y":-0.195},{"x":154.974594,"y":-0.207},{"x":154.974607,"y":-0.223},{"x":154.974621,"y":-0.238},{"x":154.974635,"y":-0.207},{"x":154.974649,"y":-0.212},{"x":154.974662,"y":-0.238},{"x":154.974682,"y":-0.19},{"x":154.974698,"y":-0.219},{"x":154.974717,"y":-0.211},{"x":154.974731,"y":-0.206},{"x":154.974745,"y":-0.233},{"x":154.974759,"y":-0.226},{"x":154.974773,"y":-0.252},{"x":154.9748,"y":-0.264},{"x":154.974817,"y":-0.296},{"x":154.974831,"y":-0.264},{"x":154.974847,"y":-0.259},{"x":154.974869,"y":-0.231},{"x":154.974877,"y":-0.204},{"x":154.974888,"y":-0.219},{"x":154.974902,"y":-0.192},{"x":154.974919,"y":-0.176},{"x":154.97493,"y":-0.185},{"x":154.974946,"y":-0.173},{"x":154.97496,"y":-0.195},{"x":154.974974,"y":-0.206},{"x":154.97499,"y":-0.185},{"x":154.975007,"y":-0.204},{"x":154.975029,"y":-0.211},{"x":154.975042,"y":-0.225},{"x":154.975051,"y":-0.249},{"x":154.975067,"y":-0.271},{"x":154.975089,"y":-0.24},{"x":154.975103,"y":-0.223},{"x":154.975117,"y":-0.259},{"x":154.975136,"y":-0.228},{"x":154.975158,"y":-0.268},{"x":154.975172,"y":-0.282},{"x":154.975183,"y":-0.3},{"x":154.975194,"y":-0.3},{"x":154.9756,"y":null},{"x":154.976112,"y":-0.3},{"x":154.976126,"y":-0.289},{"x":154.976143,"y":-0.254},{"x":154.976162,"y":-0.273},{"x":154.976181,"y":-0.24},{"x":154.976201,"y":-0.276},{"x":154.976217,"y":-0.254},{"x":154.976234,"y":-0.273},{"x":154.976258,"y":-0.28},{"x":154.976278,"y":-0.237},{"x":154.976294,"y":-0.235},{"x":154.976308,"y":-0.218},{"x":154.976327,"y":-0.219},{"x":154.976349,"y":-0.275},{"x":154.976368,"y":-0.252},{"x":154.976377,"y":-0.264},{"x":154.976396,"y":-0.23},{"x":154.976418,"y":-0.271},{"x":154.976432,"y":-0.3},{"x":154.976443,"y":-0.3},{"x":154.976459,"y":-0.29},{"x":154.976476,"y":-0.276},{"x":154.976492,"y":-0.3},{"x":154.976509,"y":-0.287},{"x":154.97652,"y":-0.3},{"x":154.976534,"y":-0.287},{"x":154.976547,"y":-0.3}]
},
"vconcat":[
{"width":1036,"height":302,"data":{"name":"p1"},
"mark":{"type":"line","strokeWidth":1.3,"clip":true,"stroke":{"gradient":"linear","x1":0,"y1":1,"x2":0,"y2":0,"stops":[{"offset":0,"color":"#781c86"},{"offset":0.1,"color":"#4040c8"},{"offset":0.2,"color":"#3f60d0"},{"offset":0.3,"color":"#4088c0"},{"offset":0.4,"color":"#50a5a0"},{"offset":0.5,"color":"#78b87c"},{"offset":0.6,"color":"#a8bd4e"},{"offset":0.7,"color":"#d1b541"},{"offset":0.8,"color":"#e49c39"},{"offset":0.9,"color":"#e4682d"},{"offset":1,"color":"#db2121"}]}},
"encoding":{
"x":{"field":"x","type":"quantitative","scale":{"domain":[41.651326,41.653524],"nice":false,"zero":false},"axis":{"orient":"bottom","offset":-292,"values":[41.6514,41.6515,41.6516,41.6517,41.6518,41.6519,41.652,41.6521,41.6522,41.6523,41.6524,41.6525,41.6526,41.6527,41.6528,41.6529,41.653,41.6531,41.6532,41.6533,41.6534,41.6535],"labelExpr":"round(datum.value*10000)%5==0 ? format(datum.value,'.4f') : ''","labelOverlap":false,"labelPadding":8,"labelFlush":false,"tickSize":{"condition":{"test":"round(datum.value*10000)%5==0","value":-5},"value":-3}}},
"y":{"field":"y","type":"quantitative","scale":{"domain":[-0.3037,0.0093],"nice":false,"zero":false},"axis":{"orient":"left","offset":-21.5,"values":[-0.3,-0.29,-0.28,-0.27,-0.26,-0.25,-0.24,-0.23,-0.22,-0.21,-0.2,-0.19,-0.18,-0.17,-0.16,-0.15,-0.14,-0.13,-0.12,-0.11,-0.1,-0.09,-0.08,-0.07,-0.06,-0.05,-0.04,-0.03,-0.02,-0.01],"labelExpr":"round(datum.value*100)%5==0 ? format(datum.value,'.2f') : ''","labelOverlap":false,"labelPadding":7.5,"labelFlush":false,"tickSize":{"condition":{"test":"round(datum.value*100)%5==0","value":-4},"value":-2}}}}},
{"width":1036,"height":302,"data":{"name":"p2"},
"mark":{"type":"line","strokeWidth":1.3,"clip":true,"stroke":{"gradient":"linear","x1":0,"y1":1,"x2":0,"y2":0,"stops":[{"offset":0,"color":"#781c86"},{"offset":0.1,"color":"#4040c8"},{"offset":0.2,"color":"#3f60d0"},{"offset":0.3,"color":"#4088c0"},{"offset":0.4,"color":"#50a5a0"},{"offset":0.5,"color":"#78b87c"},{"offset":0.6,"color":"#a8bd4e"},{"offset":0.7,"color":"#d1b541"},{"offset":0.8,"color":"#e49c39"},{"offset":0.9,"color":"#e4682d"},{"offset":1,"color":"#db2121"}]}},
"encoding":{
"x":{"field":"x","type":"quantitative","scale":{"domain":[84.730918,84.73508],"nice":false,"zero":false},"axis":{"orient":"bottom","offset":-292,"values":[84.731,84.7312,84.7314,84.7316,84.7318,84.732,84.7322,84.7324,84.7326,84.7328,84.733,84.7332,84.7334,84.7336,84.7338,84.734,84.7342,84.7344,84.7346,84.7348,84.735],"labelExpr":"round(datum.value*5000)%5==0 && datum.value>84.7315 ? format(datum.value,'.3f') : ''","labelOverlap":false,"labelPadding":8,"labelFlush":false,"tickSize":{"condition":{"test":"round(datum.value*5000)%5==0","value":-5},"value":-3}}},
"y":{"field":"y","type":"quantitative","scale":{"domain":[-0.3037,0.0093],"nice":false,"zero":false},"axis":{"orient":"left","offset":-21.5,"values":[-0.3,-0.29,-0.28,-0.27,-0.26,-0.25,-0.24,-0.23,-0.22,-0.21,-0.2,-0.19,-0.18,-0.17,-0.16,-0.15,-0.14,-0.13,-0.12,-0.11,-0.1,-0.09,-0.08,-0.07,-0.06,-0.05,-0.04,-0.03,-0.02,-0.01],"labelExpr":"round(datum.value*100)%5==0 ? format(datum.value,'.2f') : ''","labelOverlap":false,"labelPadding":7.5,"labelFlush":false,"tickSize":{"condition":{"test":"round(datum.value*100)%5==0","value":-4},"value":-2}}}}},
{"width":1036,"height":302,"data":{"name":"p3"},
"mark":{"type":"line","strokeWidth":1.5,"clip":true,"stroke":{"gradient":"linear","x1":0,"y1":1,"x2":0,"y2":0,"stops":[{"offset":0,"color":"#781c86"},{"offset":0.1,"color":"#4040c8"},{"offset":0.2,"color":"#3f60d0"},{"offset":0.3,"color":"#4088c0"},{"offset":0.4,"color":"#50a5a0"},{"offset":0.5,"color":"#78b87c"},{"offset":0.6,"color":"#a8bd4e"},{"offset":0.7,"color":"#d1b541"},{"offset":0.8,"color":"#e49c39"},{"offset":0.9,"color":"#e4682d"},{"offset":1,"color":"#db2121"}]}},
"encoding":{
"x":{"field":"x","type":"quantitative","scale":{"domain":[136.01235,136.03401],"nice":false,"zero":false},"axis":{"orient":"bottom","offset":-292,"values":[136.013,136.014,136.015,136.016,136.017,136.018,136.019,136.02,136.021,136.022,136.023,136.024,136.025,136.026,136.027,136.028,136.029,136.03,136.031,136.032,136.033,136.034],"labelExpr":"round(datum.value*1000)%5==0 && datum.value<136.032 ? format(datum.value,'.3f') : ''","labelOverlap":false,"labelPadding":8,"labelFlush":false,"tickSize":{"condition":{"test":"round(datum.value*1000)%5==0","value":-5},"value":-3}}},
"y":{"field":"y","type":"quantitative","scale":{"domain":[-0.3037,0.0093],"nice":false,"zero":false},"axis":{"orient":"left","offset":-21.5,"values":[-0.3,-0.29,-0.28,-0.27,-0.26,-0.25,-0.24,-0.23,-0.22,-0.21,-0.2,-0.19,-0.18,-0.17,-0.16,-0.15,-0.14,-0.13,-0.12,-0.11,-0.1,-0.09,-0.08,-0.07,-0.06,-0.05,-0.04,-0.03,-0.02,-0.01],"labelExpr":"round(datum.value*100)%5==0 ? format(datum.value,'.2f') : ''","labelOverlap":false,"labelPadding":7.5,"labelFlush":false,"tickSize":{"condition":{"test":"round(datum.value*100)%5==0","value":-4},"value":-2}}}}},
{"width":1036,"height":302,"data":{"name":"p4"},
"mark":{"type":"line","strokeWidth":1.5,"clip":true,"stroke":{"gradient":"linear","x1":0,"y1":1,"x2":0,"y2":0,"stops":[{"offset":0,"color":"#781c86"},{"offset":0.1,"color":"#4040c8"},{"offset":0.2,"color":"#3f60d0"},{"offset":0.3,"color":"#4088c0"},{"offset":0.4,"color":"#50a5a0"},{"offset":0.5,"color":"#78b87c"},{"offset":0.6,"color":"#a8bd4e"},{"offset":0.7,"color":"#d1b541"},{"offset":0.8,"color":"#e49c39"},{"offset":0.9,"color":"#e4682d"},{"offset":1,"color":"#db2121"}]}},
"encoding":{
"x":{"field":"x","type":"quantitative","scale":{"domain":[154.9688,154.97735],"nice":false,"zero":false},"axis":{"orient":"bottom","offset":-292,"values":[154.969,154.9695,154.97,154.9705,154.971,154.9715,154.972,154.9725,154.973,154.9735,154.974,154.9745,154.975,154.9755,154.976,154.9765,154.977],"labelExpr":"round(datum.value*2000)%4==0 ? format(datum.value,'.3f') : ''","labelOverlap":false,"labelPadding":8,"labelFlush":false,"tickSize":{"condition":{"test":"round(datum.value*2000)%4==0","value":-5},"value":-3}}},
"y":{"field":"y","type":"quantitative","scale":{"domain":[-0.3037,0.0093],"nice":false,"zero":false},"axis":{"orient":"left","offset":-21.5,"values":[-0.3,-0.29,-0.28,-0.27,-0.26,-0.25,-0.24,-0.23,-0.22,-0.21,-0.2,-0.19,-0.18,-0.17,-0.16,-0.15,-0.14,-0.13,-0.12,-0.11,-0.1,-0.09,-0.08,-0.07,-0.06,-0.05,-0.04,-0.03,-0.02,-0.01],"labelExpr":"round(datum.value*100)%5==0 ? format(datum.value,'.2f') : ''","labelOverlap":false,"labelPadding":7.5,"labelFlush":false,"tickSize":{"condition":{"test":"round(datum.value*100)%5==0","value":-4},"value":-2}}}}}
]}
